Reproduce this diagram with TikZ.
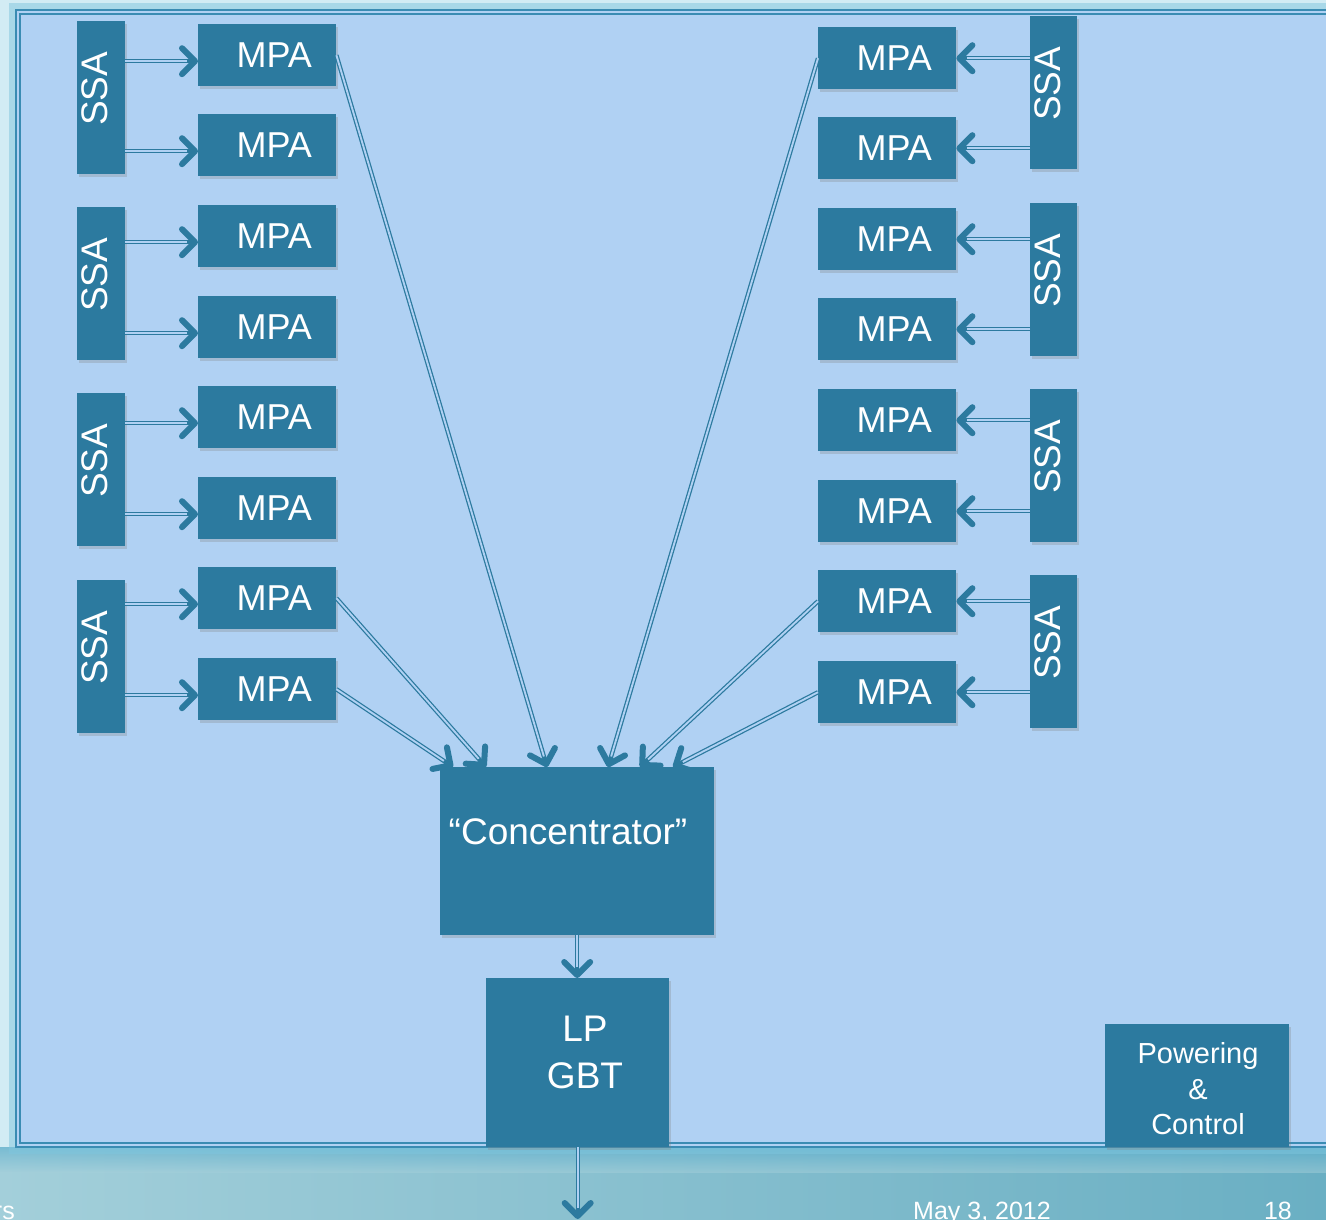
\documentclass[tikz,border=0pt]{standalone}
\usepackage{fontspec}
\setmainfont{Liberation Sans}
\usetikzlibrary{arrows.meta,shadows,calc}
\definecolor{boxc}{HTML}{2C7A9F}
\definecolor{panel}{HTML}{B0D1F3}
\definecolor{framec}{HTML}{3A8CB3}
\definecolor{glowc}{HTML}{D2ECF4}
\newcommand\dconn[2]{%
  \draw[connouter] #1 -- #2;
  \draw[conninner] #1 -- #2;}
\begin{document}
\begin{tikzpicture}[x=1bp,y=-1bp,
  box/.style={fill=boxc, draw=none, inner sep=0pt, anchor=north west, text=white,
    drop shadow={shadow xshift=2bp, shadow yshift=-3bp, opacity=0.28}},
  mpa/.style={box, minimum width=138bp, minimum height=62bp, font=\fontsize{36bp}{40bp}\selectfont},
  ssa/.style={box, minimum width=48bp, minimum height=153bp},
  ssat/.style={text=white, rotate=90, inner sep=0pt, font=\fontsize{37bp}{40bp}\selectfont},
  lbl/.style={text=white, inner sep=0pt},
  foot/.style={text=white, inner sep=0pt, font=\fontsize{25bp}{28bp}\selectfont},
  connouter/.style={draw=boxc, line width=4.4bp,
    -{Straight Barb[length=13bp, width=26bp, line width=6bp, round]}},
  conninner/.style={draw=panel, line width=1.9bp, shorten >=11bp}]
\useasboundingbox (0,0) rectangle (1326,1219);
% background
\fill[glowc] (0,0) rectangle (1326,1219);
\shade[left color={rgb,255:red,163;green,207;blue,218}, right color={rgb,255:red,106;green,175;blue,195}] (0,1147) rectangle (1326,1219);
\shade[top color={rgb,255:red,79;green,169;blue,204}, bottom color={rgb,255:red,163;green,207;blue,218}, opacity=0.5] (0,1147) rectangle (1326,1172);
\draw[color={rgb,255:red,127;green,198;blue,222}, line width=6bp, opacity=0.5] (12,6) rectangle (1345,1151);
\fill[panel] (16,10) rectangle (1340,1147);
\draw[framec, line width=1.3bp] (16,10) rectangle (1340,1147);
\draw[framec, line width=1.3bp] (20,14) rectangle (1340,1143);
% left SSA and MPA
\foreach \i/\y in {1/21,2/207,3/393,4/580} {
  \node[ssa] (LS\i) at (77,\y) {};
  \node[ssat] (LST\i) at ([shift={(-6,-9)}]LS\i.center) {SSA};
}
\foreach \i/\y in {1/24,2/114,3/205,4/296,5/386,6/477,7/567,8/658}
  \node[mpa] (L\i) at (198,\y) {\hspace*{14bp}MPA};
% right SSA and MPA
\foreach \i/\y in {1/16,2/203,3/389,4/575} {
  \node[ssa, minimum width=47bp] (RS\i) at (1030,\y) {};
  \node[ssat] (RST\i) at ([shift={(-6,-9)}]RS\i.center) {SSA};
}
\foreach \i/\y in {1/27,2/117,3/208,4/298,5/389,6/480,7/570,8/661}
  \node[mpa] (R\i) at (818,\y) {\hspace*{14bp}MPA};
% concentrator, LP GBT, powering
\node[box, minimum width=274bp, minimum height=168bp] (conc) at (440,767) {};
\node[lbl, font=\fontsize{37bp}{40bp}\selectfont] (conct) at (568,832) {“Concentrator”};
\node[box, minimum width=183bp, minimum height=169bp] (lp) at (486,978) {};
\node[lbl, align=center, font=\fontsize{37bp}{47bp}\selectfont] (lpt) at (585,1052) {LP\\GBT};
\node[box, minimum width=184bp, minimum height=123bp] (pc) at (1105,1024) {};
\node[lbl, align=center, font=\fontsize{29bp}{35.5bp}\selectfont] (pct) at (1198,1089) {Powering\\\&\\Control};
% SSA -> MPA
\foreach \m/\s in {1/1,2/1,3/2,4/2,5/3,6/3,7/4,8/4} {
  \coordinate (LA\m) at ([yshift=-6bp]L\m.west);
  \dconn{(LS\s.east |- LA\m)}{(LA\m)}
  \dconn{(RS\s.west |- R\m.east)}{(R\m.east)}
}
% MPA -> concentrator
\coordinate (cL8) at ([xshift=13bp]conc.north west);
\coordinate (cL7) at ([xshift=46bp]conc.north west);
\coordinate (cL1) at ([xshift=107bp]conc.north west);
\coordinate (cR1) at ([xshift=168bp]conc.north west);
\coordinate (cR7) at ([xshift=200bp]conc.north west);
\coordinate (cR8) at ([xshift=233bp]conc.north west);
\dconn{(L1.east)}{(cL1)}
\dconn{(L7.east)}{(cL7)}
\dconn{(L8.east)}{(cL8)}
\dconn{(R1.west)}{(cR1)}
\dconn{(R7.west)}{(cR7)}
\dconn{(R8.west)}{(cR8)}
% concentrator -> LP GBT -> out
\dconn{(conc.south)}{(conc.south |- lp.north)}
\coordinate (out) at (577.5,1219);
\dconn{(lp.south)}{(lp.south |- out)}
% footer
\node[foot, anchor=base east] (f1) at (15,1219.5) {rs};
\node[foot, anchor=base west] (f2) at (913,1219.5) {May 3, 2012};
\node[foot, anchor=base east] (f3) at (1292,1219.5) {18};
\end{tikzpicture}
\end{document}
